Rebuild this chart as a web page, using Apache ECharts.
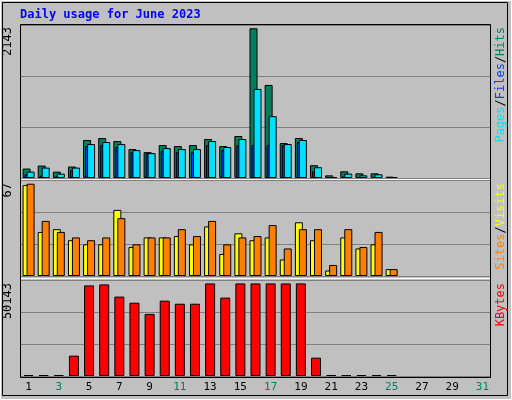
<!DOCTYPE html>
<html><head><meta charset="utf-8">
<script src="https://cdn.jsdelivr.net/npm/echarts@6/dist/echarts.min.js"></script>
<style>html,body{margin:0;padding:0;background:#c0c0c0}#c{width:512px;height:400px}</style>
</head><body><div id="c"></div>
<script>
var days = [];
for (var d = 1; d <= 31; d++) days.push(String(d));
var weekends = [3, 4, 10, 11, 17, 18, 24, 25, 31];
// top panel
var hits  = [135,178,91,164,544,572,529,414,370,471,457,471,558,457,601,2143,1332,500,572,183,38,96,67,67,19,null,null,null,null,null,null];
var pages = [48,34,24,111,457,471,443,370,356,385,370,370,471,399,471,471,471,471,515,96,14,24,14,14,10,null,null,null,null,null,null];
var files = [91,149,63,149,486,515,486,399,356,428,414,414,529,443,558,1275,885,486,544,154,14,63,38,53,10,null,null,null,null,null,null];
// middle panel
var visits = [66,32,34,26,23,23,48,21,28,28,29,23,36,16,31,26,28,12,39,26,4,28,20,23,5,null,null,null,null,null,null];
var sites  = [67,40,32,28,26,28,42,23,28,28,34,29,40,23,28,29,37,20,34,34,8,34,21,32,5,null,null,null,null,null,null];
// bottom panel
var kbytes = [0,0,0,11020,49050,49600,42990,39680,33620,40780,39130,39130,50143,42440,50143,50143,50143,50143,50143,9920,0,0,0,0,0,null,null,null,null,null,null];

var mono = '"DejaVu Sans Mono", monospace';
var chart = echarts.init(document.getElementById('c'));

var grids = [
    {left: 21, right: 22, top: 25, height: 153},
    {left: 21, right: 22, top: 180, height: 96},
    {left: 21, right: 22, top: 280, height: 96}
];
var maxes = [2190, 69.7, 51980];

function xAx(i) {
    return {
        type: 'category', gridIndex: i, data: days,
        axisLine: {show: false}, axisTick: {show: false},
        axisLabel: {
            show: i == 2, fontFamily: mono, fontSize: 11, margin: 6,
            color: function (v) { return weekends.indexOf(+v) >= 0 ? '#00805c' : '#000'; }
        }
    };
}
function yAx(i) {
    return {
        type: 'value', gridIndex: i, min: 0, max: maxes[i], interval: maxes[i] / 3,
        axisLabel: {show: false}, axisLine: {show: false}, axisTick: {show: false},
        splitLine: {lineStyle: {color: '#808080', width: 1}}
    };
}
function bar(data, color, gi, w, gap) {
    return {
        type: 'bar', data: data, xAxisIndex: gi, yAxisIndex: gi,
        barWidth: w, barGap: gap, barMinHeight: 1, silent: true, animation: false,
        itemStyle: {color: color, borderColor: '#000', borderWidth: 1}
    };
}

function vtext(x, y, rich, str) {
    return {
        type: 'text', x: x, y: y, rotation: Math.PI / 2,
        style: {text: str, rich: rich, font: '12px ' + mono, fill: '#000', align: 'right', verticalAlign: 'middle'}
    };
}

chart.setOption({
    backgroundColor: '#c0c0c0',
    graphic: [
        {type: 'rect', shape: {x: 0.5, y: 0.5, width: 511, height: 399}, style: {fill: null, stroke: '#fff', lineWidth: 1}},
        {type: 'rect', shape: {x: 2.5, y: 2.5, width: 505, height: 393}, style: {fill: null, stroke: '#000', lineWidth: 1}},
        {type: 'rect', shape: {x: 20.5, y: 24.5, width: 470, height: 353}, style: {fill: null, stroke: '#000', lineWidth: 1}},
        {type: 'line', shape: {x1: 21, y1: 179.5, x2: 490, y2: 179.5}, style: {stroke: '#fff', lineWidth: 1}},
        {type: 'line', shape: {x1: 21, y1: 278.5, x2: 490, y2: 278.5}, style: {stroke: '#fff', lineWidth: 1}},
        {type: 'text', x: 20, y: 9, style: {text: 'Daily usage for June 2023', font: 'bold 12px ' + mono, fill: '#0000ff'}},
        {type: 'text', x: 8, y: 27, rotation: Math.PI / 2, style: {text: '2143', font: '12px ' + mono, fill: '#000', align: 'right', verticalAlign: 'middle'}},
        {type: 'text', x: 8, y: 183, rotation: Math.PI / 2, style: {text: '67', font: '12px ' + mono, fill: '#000', align: 'right', verticalAlign: 'middle'}},
        {type: 'text', x: 8, y: 283, rotation: Math.PI / 2, style: {text: '50143', font: '12px ' + mono, fill: '#000', align: 'right', verticalAlign: 'middle'}},
        vtext(501, 27, {p: {fill: '#00e0ff'}, f: {fill: '#0040ff'}, h: {fill: '#00805c'}}, '{p|Pages}/{f|Files}/{h|Hits}'),
        vtext(501, 183, {s: {fill: '#ff8000'}, v: {fill: '#ffff00'}}, '{s|Sites}/{v|Visits}'),
        vtext(501, 283, {k: {fill: '#ff0000'}}, '{k|KBytes}')
    ],
    grid: grids,
    xAxis: [xAx(0), xAx(1), xAx(2)],
    yAxis: [yAx(0), yAx(1), yAx(2)],
    series: [
        bar(hits, '#00805c', 0, 8, '-75%'),
        bar(pages, '#0040ff', 0, 8, '-75%'),
        bar(files, '#00e0ff', 0, 8, '-75%'),
        bar(visits, '#ffff00', 1, 8, '-50%'),
        bar(sites, '#ff8000', 1, 8, '-50%'),
        bar(kbytes, '#ff0000', 2, 10, '0%')
    ]
});
</script>
</body></html>
